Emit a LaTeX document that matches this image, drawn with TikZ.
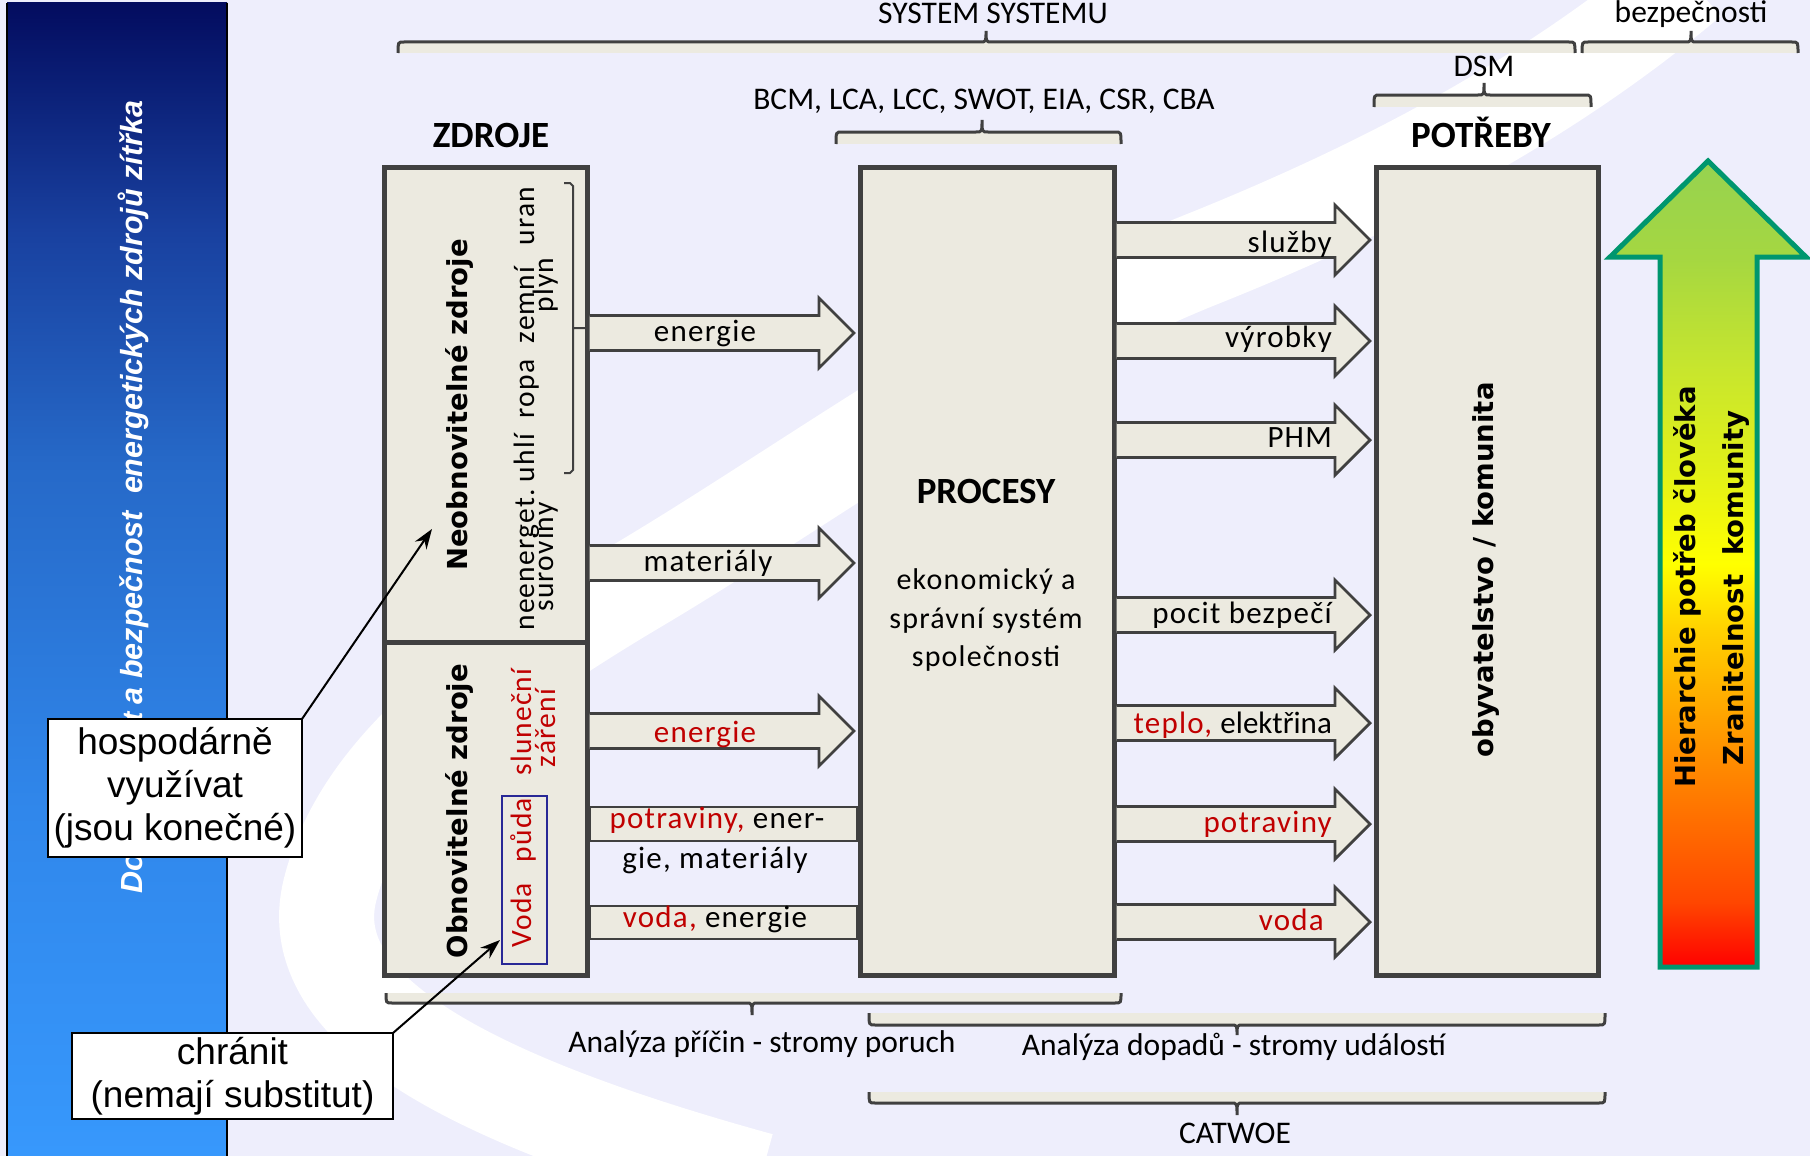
\documentclass[tikz,border=0pt]{standalone}
\usepackage{fontspec}
\setmainfont{Carlito}
\newfontfamily\spc{Carlito}[LetterSpace=4]
\newfontfamily\dvs{DejaVu Sans}
\newfontfamily\lib{Liberation Sans}
\usetikzlibrary{arrows.meta,calc}
\newcommand\myfs[2]{\fontsize{#1}{#2}\selectfont}
\definecolor{bgc}{RGB}{238,238,252}
\definecolor{boxc}{RGB}{236,234,224}
\definecolor{linec}{RGB}{64,64,64}
\definecolor{redc}{RGB}{192,0,0}
\definecolor{bluec}{RGB}{40,40,150}
\definecolor{tealc}{RGB}{0,150,110}
\definecolor{h1}{RGB}{255,0,0}
\definecolor{h2}{RGB}{255,70,0}
\definecolor{h3}{RGB}{255,150,0}
\definecolor{h4}{RGB}{255,210,0}
\definecolor{h5}{RGB}{255,255,0}
\definecolor{h6}{RGB}{225,240,25}
\definecolor{h7}{RGB}{200,230,45}
\definecolor{h8}{RGB}{165,215,65}
\definecolor{h9}{RGB}{150,210,80}
\definecolor{p1}{RGB}{55,152,252}
\definecolor{p2}{RGB}{48,135,235}
\definecolor{p3}{RGB}{38,105,200}
\definecolor{p4}{RGB}{25,65,160}
\definecolor{p5}{RGB}{3,12,95}
\pgfdeclareverticalshading{hier}{100bp}{color(0bp)=(h1); color(25bp)=(h1); color(29bp)=(h2); color(39bp)=(h3); color(46bp)=(h4); color(50bp)=(h5); color(56bp)=(h6); color(62bp)=(h7); color(69bp)=(h8); color(75bp)=(h9); color(100bp)=(h9)}
\pgfdeclareverticalshading{panel}{100bp}{color(0bp)=(p1); color(25bp)=(p1); color(40bp)=(p2); color(55bp)=(p3); color(65bp)=(p4); color(75bp)=(p5); color(100bp)=(p5)}
\newcommand\mybrace[6]{%
  \fill[boxc] (#1,#4) rectangle (#2,#5);
  \draw[bracestyle] (#1,#5) .. controls (#1,#4) .. (#1+6,#4) -- (#3-6,#4) .. controls (#3,#4) .. (#3,#6) .. controls (#3,#4) .. (#3+6,#4) -- (#2-6,#4) .. controls (#2,#4) .. (#2,#5);}
\newcommand\flowarrow[3]{%
  \filldraw[flow] ($(#1.east |- 0,#3)+(2.5,-17.5)$) -- ($(#2.west |- 0,#3)+(-41,-17.5)$) -- ($(#2.west |- 0,#3)+(-41,-35)$) -- ($(#2.west |- 0,#3)+(-6,0)$) -- ($(#2.west |- 0,#3)+(-41,35)$) -- ($(#2.west |- 0,#3)+(-41,17.5)$) -- ($(#1.east |- 0,#3)+(2.5,17.5)$);}
\tikzset{
  box/.style={draw=linec, fill=boxc, line width=5pt, outer sep=0pt, inner sep=0pt},
  flow/.style={draw=linec, fill=boxc, line width=2.8pt, line join=miter},
  bracestyle/.style={draw=linec, line width=3pt},
  lbl/.style={font=\spc\myfs{31}{37}, inner sep=0pt},
  toplbl/.style={font=\myfs{31.5}{37}, inner sep=0pt, anchor=base},
  title/.style={font=\bfseries\myfs{37}{40}, inner sep=0pt, anchor=base},
  vbold/.style={rotate=90, anchor=base, inner sep=0pt, font=\dvs\bfseries\myfs{27.5}{30}},
  vtext/.style={rotate=90, anchor=base, inner sep=0pt, font=\spc\myfs{29.5}{30}},
  callout/.style={draw=black, fill=white, line width=2pt, outer sep=0pt, inner sep=0pt, align=center, font=\lib\myfs{37}{43}},
  callarrow/.style={draw=black, line width=2pt, -{Stealth[length=20pt,width=14pt]}},
  swoosh/.style={draw=white, line cap=butt}
}
\begin{document}
\begin{tikzpicture}[x=1pt,y=-1pt]
\useasboundingbox (0,0) rectangle (1810,1156);
\fill[bgc] (0,0) rectangle (1810,1156);
% background watermark swoosh
\draw[swoosh, line width=95pt] (760,1180) .. controls (470,1100) and (300,1010) .. (330,890) .. controls (360,770) and (480,680) .. (630,590) .. controls (800,490) and (1000,340) .. (1200,260) .. controls (1400,180) and (1560,90) .. (1690,-20);
% left panel
\shade[shading=panel] (7,3) rectangle (227,1156);
\draw[black, line width=1.5pt] (7,3) -- (7,1156) (227,3) -- (227,1156);
\node[rotate=90, anchor=base, text=white, inner sep=0pt, font=\lib\bfseries\itshape\myfs{30.5}{36}] (paneltext) at (142,497) {Do{\myfs{28}{36}statečnost} a bezpečnost\ \ energetických zdrojů zítřka};
% top labels and braces
\node[toplbl] (sys) at (993,24) {SYSTEM SYSTEMU};
\node[toplbl] (bez) at (1691,23) {bezpečnosti};
\node[toplbl] (dsm) at (1484,77) {DSM};
\node[toplbl] (bcm) at (984,109) {BCM, LCA, LCC, SWOT, EIA, CSR, CBA};
\mybrace{398}{1575}{986}{42}{53}{31}
\mybrace{1582}{1798}{1691}{42}{53}{31}
\mybrace{1374}{1591}{1484}{95}{107}{83}
\mybrace{836}{1121}{982}{132}{144}{120}
% bottom braces and labels
\mybrace{386}{1121}{752}{1003}{993}{1015}
\mybrace{869}{1605}{1237}{1025}{1013}{1035}
\mybrace{869}{1605}{1237}{1103}{1092}{1115}
\node[toplbl] (anp) at (762,1052) {Analýza příčin - stromy poruch};
\node[toplbl] (and) at (1234,1055) {Analýza dopadů - stromy událostí};
\node[toplbl] (cat) at (1235,1143) {CATWOE};
% titles
\node[title] (tz) at (491,147) {ZDROJE};
\node[title] (tpo) at (1481,147) {POTŘEBY};
% boxes
\node[box, minimum width=203, minimum height=808] (zdroje) at (485.5,571) {};
\draw[linec, line width=5pt] (zdroje.west |- 0,642) -- (zdroje.east |- 0,642);
\node[box, minimum width=254, minimum height=808] (procesy) at (987,571) {};
\node[box, minimum width=222, minimum height=808] (potreby) at (1487,571) {};
% flows left
\flowarrow{zdroje}{procesy}{333}
\flowarrow{zdroje}{procesy}{563}
\flowarrow{zdroje}{procesy}{731}
\filldraw[flow] ($(zdroje.east |- 0,807)+(2.5,0)$) rectangle ($(procesy.west |- 0,841)+(-2.5,0)$);
\filldraw[flow] ($(zdroje.east |- 0,906)+(2.5,0)$) rectangle ($(procesy.west |- 0,939)+(-2.5,0)$);
\node[lbl, anchor=base] (l1) at (705,341) {energie};
\node[lbl, anchor=base] (l2) at (708,571) {materiály};
\node[lbl, anchor=base, text=redc] (l3) at (705,742) {energie};
\node[lbl, anchor=base] (l4) at (717,828) {\textcolor{redc}{potraviny,} ener-};
\node[lbl, anchor=base] (l5) at (715,868) {gie, materiály};
\node[lbl, anchor=base] (l6) at (715,927) {\textcolor{redc}{voda,} energie};
% flows right
\flowarrow{procesy}{potreby}{240}
\flowarrow{procesy}{potreby}{341}
\flowarrow{procesy}{potreby}{440}
\flowarrow{procesy}{potreby}{615}
\flowarrow{procesy}{potreby}{723}
\flowarrow{procesy}{potreby}{824}
\flowarrow{procesy}{potreby}{922}
\node[lbl, anchor=base east] (r1) at (1332,252) {služby};
\node[lbl, anchor=base east] (r2) at (1332,347) {výrobky};
\node[lbl, anchor=base east] (r3) at (1332,447) {PHM};
\node[lbl, anchor=base east] (r4) at (1332,623) {pocit bezpečí};
\node[lbl, anchor=base east] (r5) at (1332,733) {\textcolor{redc}{teplo,} {\rmfamily elektřina}};
\node[lbl, anchor=base east, text=redc] (r6) at (1332,832) {potraviny};
\node[lbl, anchor=base east, text=redc] (r7) at (1324,930) {voda};
% procesy text
\node[title] (tpr) at (986,503) {PROCESY};
\node[font=\spc\myfs{30}{38.5}, align=center, inner sep=0pt] (ptext) at (986,620) {ekonomický a\\správní systém\\společnosti};
% zdroje contents
\node[vbold] (neo) at (467,405) {Neobnovitelné zdroje};
\node[vbold] (obn) at (467,811) {Obnovitelné zdroje};
\node[vtext] (w1) at (534,560) {neenerget.};
\node[vtext] (w2) at (534,458) {uhlí};
\node[vtext] (w3) at (534,389) {ropa};
\node[vtext] (w4) at (534,305) {zemní};
\node[vtext] (w5) at (534,216) {uran};
\node[vtext] (w6) at (553,557) {suroviny};
\node[vtext] (w7) at (553,285) {plyn};
\draw[linec, line width=2pt] (564,183) -- (570,183) -- (573,186) -- (573,470) -- (570,473) -- (564,473) (573,328) -- (585,328);
\node[vtext, text=redc] (s1) at (531,722) {sluneční};
\node[vtext, text=redc] (s2) at (555,728) {záření};
\node[draw=bluec, line width=2pt, minimum width=45, minimum height=168, inner sep=0pt] (vp) at (524.5,880) {};
\node[vtext, text=redc] (v1) at (531,915) {Voda};
\node[vtext, text=redc] (v2) at (531,830) {půda};
% potreby text
\node[vbold] (obyv) at (1493,570) {obyvatelstvo / komunita};
% hierarchy arrow
\shadedraw[shading=hier, draw=tealc, line width=5pt, line join=miter] (1660,967) -- (1660,257) -- (1610,257) -- (1708,161) -- (1806,257) -- (1757,257) -- (1757,967) -- cycle;
\node[vbold] (hier) at (1695,587) {Hierarchie potřeb člověka};
\node[vbold] (zran) at (1743,588) {Zranitelnost\ \ komunity};
% callouts
\node[callout, minimum width=254, minimum height=138] (hosp) at (175,788) {hospodárně\\využívat\\(jsou konečné)};
\node[callout, minimum width=321, minimum height=86] (chran) at (232.5,1076) {chránit\\(nemají substitut)};
\coordinate (neotip) at (432,529);
\coordinate (vodatip) at (500,940);
\draw[callarrow] (hosp.north east) -- (neotip);
\draw[callarrow] (chran.north east) -- (vodatip);
\end{tikzpicture}
\end{document}
